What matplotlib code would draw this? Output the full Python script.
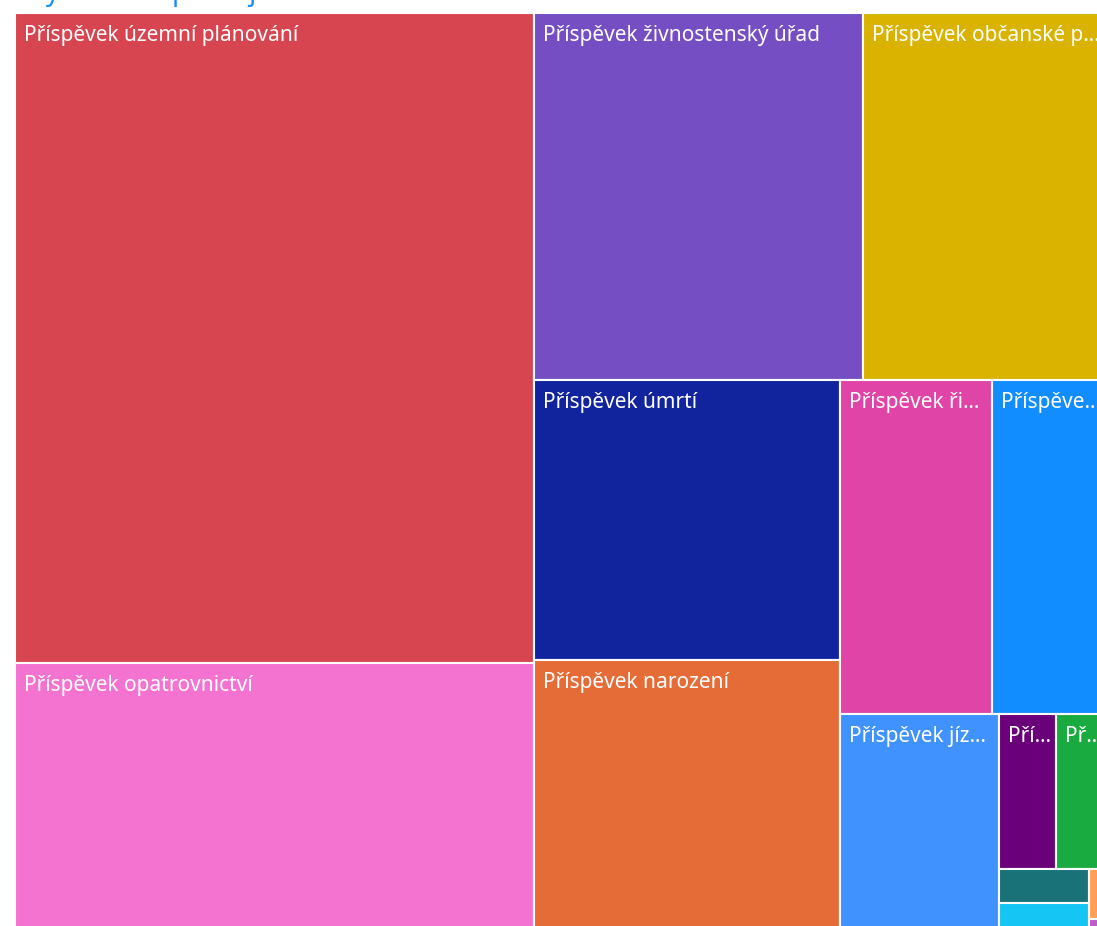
import matplotlib.pyplot as plt
from matplotlib.patches import Rectangle

# data (tis. Kč) - read from tile areas
names = ['Příspěvek územní plánování', 'Příspěvek opatrovnictví', 'Příspěvek živnostenský úřad',
         'Příspěvek občanské průkazy', 'Příspěvek úmrtí', 'Příspěvek narození',
         'Příspěvek řidičské průkazy', 'Příspěvek matrika', 'Příspěvek jízdní doklady',
         'Příspěvek ověřování', 'Příspěvek stavební úřad', 'Příspěvek czechpoint',
         'Příspěvek sociální služby', 'Příspěvek volby', 'Příspěvek ostatní']
values = [3367, 1388, 1204, 888, 854, 829, 504, 377, 344, 88, 76, 30, 25, 8, 2]
colors = ['#D64550', '#F472D0', '#744EC2', '#D9B300', '#12239E', '#E66C37', '#E044A7', '#118DFF',
          '#4092FF', '#6B007B', '#1AAB40', '#197278', '#15C6F4', '#FFA058', '#BE5DC9']
title = 'Vyúčtování podle jednotek'

PHI = (1 + 5 ** 0.5) / 2


def squarify(vals, x0, y0, x1, y1, ratio=PHI):
    # same row logic as d3.treemapSquarify
    rects = [None] * len(vals)
    total = float(sum(vals))
    n = len(vals)
    i0 = 0
    while i0 < n:
        dx, dy = x1 - x0, y1 - y0
        s = mn = mx = vals[i0]
        i1 = i0 + 1
        alpha = max(dy / dx, dx / dy) / (total * ratio)
        beta = s * s * alpha
        best = max(mx / beta, beta / mn)
        while i1 < n:
            v = vals[i1]
            s2 = s + v
            beta = s2 * s2 * alpha
            r = max(max(mx, v) / beta, beta / min(mn, v))
            if r > best:
                break
            best, s, mn, mx = r, s2, min(mn, v), max(mx, v)
            i1 += 1
        if dx < dy:
            yb = y0 + dy * s / total
            x = x0
            for i in range(i0, i1):
                w = dx * vals[i] / s
                rects[i] = (x, y0, w, yb - y0)
                x += w
            y0 = yb
        else:
            xb = x0 + dx * s / total
            y = y0
            for i in range(i0, i1):
                h = dy * vals[i] / s
                rects[i] = (x0, y, xb - x0, h)
                y += h
            x0 = xb
        total -= s
        i0 = i1
    return rects


fig = plt.figure(figsize=(10.97, 9.26), dpi=100)
ax = fig.add_axes([0, 0, 1, 1])
ax.set_xlim(0, 1097)
ax.set_ylim(926, 0)
ax.axis('off')

rects = squarify(values, 15, 13, 1105, 931)
renderer = fig.canvas.get_renderer()

for name, col, (x, y, w, h) in zip(names, colors, rects):
    ax.add_patch(Rectangle((x, y), w, h, facecolor=col, edgecolor='white', lw=1.5))
    if h < 45 or w < 45:
        continue
    t = ax.text(x + 9, y + 12, name, color='white', fontsize=15, family='Noto Sans',
                va='top', ha='left')
    label = name
    while t.get_window_extent(renderer).width > w - 13 and len(label) > 2:
        label = label[:-1].rstrip()
        t.set_text(label + '…')

ax.text(30, 0, title, color='#118DFF', fontsize=19, family='Noto Sans', va='baseline', ha='left')

fig.savefig('out.png', dpi=100)
